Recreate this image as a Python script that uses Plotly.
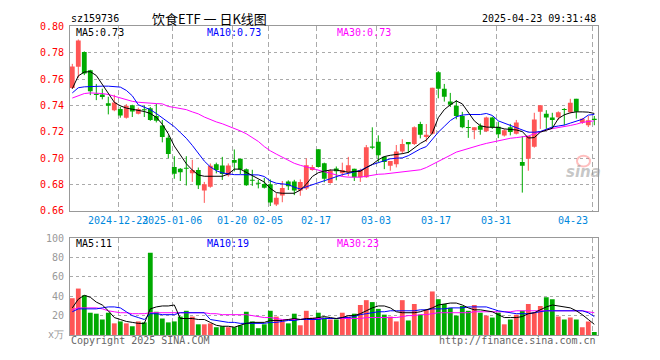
import plotly.graph_objects as go

# ---------------- data ----------------
dates = [
    "2024-12-11", "2024-12-12", "2024-12-13", "2024-12-16", "2024-12-17", "2024-12-18", "2024-12-19", "2024-12-20",
    "2024-12-23", "2024-12-24", "2024-12-25", "2024-12-26", "2024-12-27", "2024-12-30", "2024-12-31",
    "2025-01-02", "2025-01-03",
    "2025-01-06", "2025-01-07", "2025-01-08", "2025-01-09", "2025-01-10",
    "2025-01-13", "2025-01-14", "2025-01-15", "2025-01-16", "2025-01-17",
    "2025-01-20", "2025-01-21", "2025-01-22", "2025-01-23", "2025-01-24", "2025-01-27",
    "2025-02-05", "2025-02-06", "2025-02-07", "2025-02-10", "2025-02-11", "2025-02-12", "2025-02-13", "2025-02-14",
    "2025-02-17", "2025-02-18", "2025-02-19", "2025-02-20", "2025-02-21",
    "2025-02-24", "2025-02-25", "2025-02-26", "2025-02-27", "2025-02-28",
    "2025-03-03", "2025-03-04", "2025-03-05", "2025-03-06", "2025-03-07",
    "2025-03-10", "2025-03-11", "2025-03-12", "2025-03-13", "2025-03-14",
    "2025-03-17", "2025-03-18", "2025-03-19", "2025-03-20", "2025-03-21",
    "2025-03-24", "2025-03-25", "2025-03-26", "2025-03-27", "2025-03-28",
    "2025-03-31", "2025-04-01", "2025-04-02", "2025-04-03",
    "2025-04-07", "2025-04-08", "2025-04-09", "2025-04-10", "2025-04-11",
    "2025-04-14", "2025-04-15", "2025-04-16", "2025-04-17", "2025-04-18",
    "2025-04-21", "2025-04-22", "2025-04-23",
]

open_ = [
    0.7532, 0.7693, 0.7805, 0.7666, 0.7482, 0.7483, 0.7417, 0.7363, 0.7373, 0.7307,
    0.7402, 0.7337, 0.7368, 0.7378, 0.7320, 0.7247, 0.7154, 0.6934, 0.6920, 0.6924,
    0.6885, 0.6910, 0.6754, 0.6783, 0.6954, 0.6944, 0.6871, 0.6986, 0.6995, 0.6917,
    0.6832, 0.6808, 0.6805, 0.6802, 0.6649, 0.6717, 0.6824, 0.6824, 0.6754, 0.6771,
    0.6910, 0.7068, 0.6961, 0.6812, 0.6922, 0.6885, 0.6893, 0.6920, 0.6856, 0.6856,
    0.7085, 0.7124, 0.7010, 0.6942, 0.6954, 0.7051, 0.7122, 0.7107, 0.7259, 0.7161,
    0.7186, 0.7652, 0.7527, 0.7430, 0.7398, 0.7320, 0.7232, 0.7212, 0.7245, 0.7205,
    0.7308, 0.7238, 0.7172, 0.7234, 0.7186, 0.6971, 0.6995, 0.7086, 0.7353, 0.7337,
    0.7308, 0.7311, 0.7372, 0.7348, 0.7450, 0.7269, 0.7250, 0.7299,
]
high = [
    0.7715, 0.7900, 0.7810, 0.7670, 0.7563, 0.7527, 0.7466, 0.7481, 0.7388, 0.7410,
    0.7405, 0.7383, 0.7400, 0.7388, 0.7413, 0.7290, 0.7173, 0.7015, 0.6925, 0.7015,
    0.6988, 0.6929, 0.6820, 0.6960, 0.6966, 0.7010, 0.6960, 0.7066, 0.6995, 0.6922,
    0.6912, 0.6835, 0.6851, 0.6839, 0.6734, 0.6827, 0.6832, 0.6836, 0.6839, 0.6998,
    0.6949, 0.7068, 0.6966, 0.6917, 0.6937, 0.6966, 0.7010, 0.6920, 0.6920, 0.7100,
    0.7234, 0.7173, 0.7015, 0.6978, 0.7100, 0.7144, 0.7122, 0.7241, 0.7276, 0.7259,
    0.7534, 0.7660, 0.7563, 0.7495, 0.7441, 0.7351, 0.7290, 0.7234, 0.7263, 0.7315,
    0.7315, 0.7276, 0.7220, 0.7260, 0.7290, 0.7168, 0.7168, 0.7344, 0.7401, 0.7364,
    0.7344, 0.7355, 0.7380, 0.7450, 0.7450, 0.7305, 0.7320, 0.7320,
]
low = [
    0.7525, 0.7610, 0.7630, 0.7478, 0.7440, 0.7446, 0.7332, 0.7356, 0.7307, 0.7300,
    0.7312, 0.7332, 0.7312, 0.7283, 0.7271, 0.7120, 0.7000, 0.6844, 0.6827, 0.6793,
    0.6820, 0.6766, 0.6661, 0.6776, 0.6885, 0.6835, 0.6860, 0.6900, 0.6880, 0.6790,
    0.6790, 0.6771, 0.6770, 0.6637, 0.6637, 0.6666, 0.6759, 0.6720, 0.6715, 0.6759,
    0.6905, 0.6929, 0.6817, 0.6807, 0.6832, 0.6863, 0.6863, 0.6827, 0.6820, 0.6851,
    0.7068, 0.6966, 0.6917, 0.6905, 0.6930, 0.7032, 0.7039, 0.7100, 0.7150, 0.7124,
    0.7180, 0.7454, 0.7429, 0.7388, 0.7295, 0.7227, 0.7154, 0.7144, 0.7178, 0.7198,
    0.7222, 0.7152, 0.7164, 0.7173, 0.7180, 0.6739, 0.6905, 0.7080, 0.7222, 0.7222,
    0.7222, 0.7290, 0.7250, 0.7340, 0.7300, 0.7260, 0.7236, 0.7250,
]
close = [
    0.7695, 0.7893, 0.7642, 0.7508, 0.7480, 0.7464, 0.7398, 0.7422, 0.7324, 0.7398,
    0.7354, 0.7373, 0.7363, 0.7290, 0.7283, 0.7161, 0.7032, 0.6881, 0.6893, 0.6920,
    0.6910, 0.6795, 0.6802, 0.6942, 0.6910, 0.6880, 0.6944, 0.6966, 0.6914, 0.6795,
    0.6829, 0.6806, 0.6776, 0.6663, 0.6700, 0.6773, 0.6788, 0.6754, 0.6820, 0.6946,
    0.6934, 0.6934, 0.6844, 0.6905, 0.6900, 0.6910, 0.6946, 0.6856, 0.6910, 0.7083,
    0.7080, 0.7022, 0.6971, 0.6978, 0.7051, 0.7107, 0.7105, 0.7234, 0.7178, 0.7178,
    0.7534, 0.7527, 0.7466, 0.7405, 0.7320, 0.7234, 0.7229, 0.7234, 0.7215, 0.7308,
    0.7234, 0.7181, 0.7212, 0.7198, 0.7271, 0.6942, 0.7168, 0.7294, 0.7401, 0.7308,
    0.7290, 0.7348, 0.7365, 0.7421, 0.7353, 0.7299, 0.7287, 0.7290,
]

ma5 = [
    0.7527, 0.7624, 0.7653, 0.7656, 0.7627, 0.7556, 0.7485, 0.7424, 0.7397, 0.7380,
    0.7371, 0.7363, 0.7354, 0.7339, 0.7310, 0.7258, 0.7185, 0.7092, 0.7022, 0.6958,
    0.6910, 0.6873, 0.6863, 0.6863, 0.6863, 0.6863, 0.6880, 0.6917, 0.6917, 0.6893,
    0.6871, 0.6849, 0.6819, 0.6771, 0.6739, 0.6734, 0.6734, 0.6734, 0.6758, 0.6802,
    0.6861, 0.6890, 0.6902, 0.6910, 0.6910, 0.6900, 0.6893, 0.6900, 0.6900, 0.6929,
    0.6953, 0.6988, 0.7012, 0.7022, 0.7027, 0.7034, 0.7044, 0.7078, 0.7112, 0.7137,
    0.7190, 0.7307, 0.7368, 0.7405, 0.7434, 0.7412, 0.7344, 0.7283, 0.7246, 0.7236,
    0.7234, 0.7234, 0.7222, 0.7217, 0.7214, 0.7202, 0.7153, 0.7156, 0.7197, 0.7212,
    0.7227, 0.7300, 0.7329, 0.7344, 0.7351, 0.7351, 0.7349, 0.7339,
]
ma10 = [
    0.7495, 0.7534, 0.7541, 0.7544, 0.7546, 0.7546, 0.7546, 0.7544, 0.7539, 0.7514,
    0.7473, 0.7405, 0.7385, 0.7368, 0.7339, 0.7307, 0.7275, 0.7239, 0.7195, 0.7151,
    0.7097, 0.7039, 0.6978, 0.6934, 0.6905, 0.6888, 0.6880, 0.6875, 0.6875, 0.6873,
    0.6873, 0.6873, 0.6861, 0.6827, 0.6810, 0.6805, 0.6800, 0.6780, 0.6766, 0.6783,
    0.6800, 0.6817, 0.6829, 0.6844, 0.6861, 0.6875, 0.6885, 0.6895, 0.6907, 0.6929,
    0.6951, 0.6966, 0.6983, 0.6995, 0.7000, 0.7002, 0.7019, 0.7046, 0.7070, 0.7088,
    0.7141, 0.7197, 0.7241, 0.7285, 0.7314, 0.7327, 0.7331, 0.7331, 0.7331, 0.7339,
    0.7324, 0.7283, 0.7266, 0.7251, 0.7236, 0.7214, 0.7197, 0.7197, 0.7202, 0.7219,
    0.7236, 0.7244, 0.7251, 0.7266, 0.7283, 0.7295, 0.7327, 0.7331,
]
ma30 = [
    0.7456, 0.7475, 0.7490, 0.7495, 0.7495, 0.7490, 0.7483, 0.7470, 0.7453, 0.7444,
    0.7431, 0.7424, 0.7419, 0.7417, 0.7414, 0.7412, 0.7392, 0.7385, 0.7378, 0.7368,
    0.7351, 0.7336, 0.7312, 0.7292, 0.7275, 0.7261, 0.7244, 0.7224, 0.7207, 0.7185,
    0.7158, 0.7127, 0.7088, 0.7056, 0.7031, 0.7007, 0.6983, 0.6961, 0.6946, 0.6934,
    0.6922, 0.6907, 0.6895, 0.6883, 0.6871, 0.6861, 0.6856, 0.6856, 0.6856, 0.6863,
    0.6873, 0.6878, 0.6880, 0.6885, 0.6890, 0.6895, 0.6900, 0.6905, 0.6912, 0.6929,
    0.6951, 0.6973, 0.6995, 0.7022, 0.7046, 0.7061, 0.7075, 0.7090, 0.7100, 0.7112,
    0.7122, 0.7134, 0.7141, 0.7151, 0.7156, 0.7161, 0.7168, 0.7185, 0.7202, 0.7214,
    0.7224, 0.7231, 0.7239, 0.7248, 0.7258, 0.7271, 0.7278, 0.7283,
]

volume = [
    38, 48, 41, 23, 22, 16, 23, 12, 14, 12,
    9, 14, 13, 85, 24, 17, 13, 14, 19, 25,
    19, 11, 11, 12, 8, 9, 8, 8, 10, 24,
    14, 7, 11, 25, 19, 14, 12, 22, 10, 25,
    18, 23, 18, 16, 16, 23, 19, 22, 31, 36,
    34, 27, 21, 19, 14, 36, 15, 32, 21, 26,
    45, 37, 32, 28, 20, 30, 25, 31, 23, 20,
    18, 23, 11, 16, 21, 25, 32, 23, 30, 39,
    37, 19, 16, 18, 16, 8, 14, 3,
]
vol_ma5 = [
    28, 37, 41, 39, 34, 31, 25, 18, 16, 14,
    13, 12, 12, 27, 29, 30, 30, 31, 17, 17,
    17, 16, 16, 13, 10, 9, 9, 8, 10, 12,
    13, 13, 13, 15, 15, 15, 16, 17, 16, 17,
    17, 18, 19, 18, 17, 18, 20, 20, 22, 25,
    28, 30, 30, 28, 24, 23, 23, 23, 24, 26,
    28, 31, 32, 33, 33, 31, 28, 26, 26, 25,
    24, 21, 18, 18, 18, 19, 22, 23, 26, 29,
    31, 30, 29, 28, 25, 21, 16, 11,
]
vol_ma10 = [
    24, 27, 27, 27, 27, 28, 29, 29, 28, 24,
    20, 18, 16, 22, 22, 21, 21, 21, 23, 23,
    23, 23, 23, 16, 15, 14, 13, 13, 12, 12,
    12, 12, 12, 13, 13, 14, 15, 15, 16, 16,
    16, 16, 17, 17, 17, 18, 18, 19, 21, 22,
    23, 24, 24, 25, 25, 25, 25, 25, 26, 26,
    27, 27, 27, 28, 28, 28, 29, 29, 29, 29,
    27, 25, 24, 23, 22, 22, 22, 23, 24, 25,
    25, 25, 25, 25, 25, 25, 23, 19,
]
vol_ma30 = [
    26, 28, 28, 28, 28, 27, 25, 24, 23, 23,
    22, 22, 22, 23, 23, 23, 23, 23, 23, 23,
    23, 23, 23, 22, 22, 21, 21, 21, 21, 21,
    20, 19, 18, 18, 17, 16, 16, 16, 16, 17,
    17, 17, 17, 17, 17, 17, 17, 17, 17, 18,
    18, 18, 18, 18, 18, 19, 20, 20, 21, 21,
    22, 23, 23, 23, 23, 23, 23, 24, 24, 24,
    24, 24, 24, 24, 25, 25, 25, 25, 25, 25,
    25, 25, 25, 25, 25, 25, 24, 23,
]

tick_dates = ["2024-12-23", "2025-01-06", "2025-01-20", "2025-02-05", "2025-02-17",
              "2025-03-03", "2025-03-17", "2025-03-31", "2025-04-23"]
tick_labels = ["2024-12-23", "2025-01-06", "01-20", "02-05", "02-17",
               "03-03", "03-17", "03-31", "04-23"]
price_ticks = [0.66, 0.68, 0.70, 0.72, 0.74, 0.76, 0.78, 0.80]
vol_ticks = [0, 20, 40, 60, 80, 100]
vol_tick_text = ["x万", "20", "40", "60", "80", "100"]

# ---------------- styling / layout ----------------
W, H = 660, 360
RED = "#ff5555"
GREEN = "#00aa00"
MONO = "DejaVu Sans Mono"
GRID = "#aaaaaa"


def fx(p):
    return p / W


def fy(p):
    return 1 - p / H


idx = list(range(len(dates)))
up = [c >= o for o, c in zip(open_, close)]
colors = [RED if u else GREEN for u in up]
x_range = [-0.383, len(dates) - 1 + 0.567]
tick_pos = [dates.index(d) - 0.35 for d in tick_dates]

fig = go.Figure()

# wicks
for flag, col in ((True, RED), (False, GREEN)):
    xs, ys = [], []
    for i in idx:
        if up[i] == flag:
            xs += [i, i, None]
            ys += [low[i], high[i], None]
    fig.add_trace(go.Scatter(x=xs, y=ys, mode="lines", line=dict(color=col, width=1),
                             xaxis="x", yaxis="y", hoverinfo="skip", showlegend=False))

# bodies
base = [min(o, c) for o, c in zip(open_, close)]
body = [max(abs(c - o), 0.0008) for o, c in zip(open_, close)]
fig.add_trace(go.Bar(x=idx, y=body, base=base, width=0.8,
                     marker=dict(color=colors, line=dict(width=0)),
                     xaxis="x", yaxis="y", showlegend=False))

# price moving averages
for arr, col in ((ma30, "#ff00ff"), (ma10, "#0000ff"), (ma5, "#000000")):
    fig.add_trace(go.Scatter(x=idx, y=arr, mode="lines", line=dict(color=col, width=1),
                             xaxis="x", yaxis="y", showlegend=False, hoverinfo="skip"))

# volume
fig.add_trace(go.Bar(x=idx, y=volume, width=0.8,
                     marker=dict(color=colors, line=dict(width=0)),
                     xaxis="x2", yaxis="y2", showlegend=False))
for arr, col in ((vol_ma30, "#ff00ff"), (vol_ma10, "#0000ff"), (vol_ma5, "#000000")):
    fig.add_trace(go.Scatter(x=idx, y=arr, mode="lines", line=dict(color=col, width=1),
                             xaxis="x2", yaxis="y2", showlegend=False, hoverinfo="skip"))

x_dom = [fx(70), fx(597.7)]
common_x = dict(domain=x_dom, range=x_range, tickvals=tick_pos, showticklabels=False,
                showgrid=True, gridcolor=GRID, griddash="5px,3px", gridwidth=1,
                zeroline=False, showline=True, mirror=True, linecolor="#999999",
                linewidth=1, ticks="", fixedrange=True)
common_y = dict(showgrid=True, gridcolor=GRID, griddash="dot", gridwidth=1,
                zeroline=False, showline=True, mirror=True, linecolor="#999999",
                linewidth=1, ticks="", ticklabelstandoff=3, fixedrange=True)

fig.update_layout(
    width=W, height=H, autosize=False,
    margin=dict(l=0, r=0, t=0, b=0),
    paper_bgcolor="white", plot_bgcolor="white",
    barmode="overlay", showlegend=False,
    xaxis=dict(anchor="y", **common_x),
    xaxis2=dict(anchor="y2", **common_x),
    yaxis=dict(domain=[fy(212), fy(21)], range=[0.66, 0.80], tickvals=price_ticks,
               ticktext=[f"{v:.2f}" for v in price_ticks],
               tickfont=dict(family=MONO, size=10, color="#ff0000"), anchor="x", **common_y),
    yaxis2=dict(domain=[fy(340.3), fy(240.3)], range=[0, 100], tickvals=vol_ticks,
                ticktext=vol_tick_text,
                tickfont=dict(family=MONO, size=10, color="#999999"), anchor="x2", **common_y),
)

ann = []


def text(x, y, s, color="#000000", size=10, family=MONO, xanchor="left", xref="paper"):
    ann.append(dict(x=x, y=fy(y), xref=xref, yref="paper", text=s, showarrow=False,
                    xanchor=xanchor, yanchor="middle",
                    font=dict(family=family, size=size, color=color)))


text(fx(69), 13, "sz159736")
text(fx(150), 13, "饮食ETF 一 日K线图", size=13, family="Noto Sans CJK SC")
text(fx(598), 13, "2025-04-23 09:31:48", xanchor="right")
text(fx(74), 27, f"MA5:{ma5[-1]:.2f}", color="#000000")
text(fx(205), 27, f"MA10:{ma10[-1]:.2f}", color="#0000ff")
text(fx(335), 27, f"MA30:{ma30[-1]:.2f}", color="#ff00ff")
text(fx(74), 246, f"MA5:{vol_ma5[-1]}", color="#000000")
text(fx(205), 246, f"MA10:{vol_ma10[-1]}", color="#0000ff")
text(fx(335), 246, f"MA30:{vol_ma30[-1]}", color="#ff00ff")
text(fx(69), 346, "Copyright 2025 SINA.COM", color="#666666")
text(fx(598), 346, "http://finance.sina.com.cn", color="#666666", xanchor="right")

for i, (p, lab) in enumerate(zip(tick_pos, tick_labels)):
    last = i == len(tick_pos) - 1
    ann.append(dict(x=p, y=fy(222), xref="x", yref="paper", text=lab, showarrow=False,
                    xanchor="right" if last else "center", yanchor="middle",
                    xshift=-2 if last else 0,
                    font=dict(family=MONO, size=10, color="#0088dd")))

# sina watermark
ann.append(dict(x=fx(583), y=fy(172), xref="paper", yref="paper", text="<b><i>sina</i></b>",
                showarrow=False, xanchor="center", yanchor="middle",
                font=dict(family="DejaVu Sans", size=15, color="rgba(150,150,150,0.55)")))
fig.update_layout(annotations=ann)
fig.add_shape(type="circle", xref="paper", yref="paper",
              x0=fx(577), x1=fx(590), y0=fy(166), y1=fy(155),
              line=dict(color="rgba(255,110,110,0.45)", width=2))

fig.write_html("out.html",
               config={"displayModeBar": False, "staticPlot": True},
               post_script="document.body.style.margin='0';document.body.style.overflow='hidden';")
